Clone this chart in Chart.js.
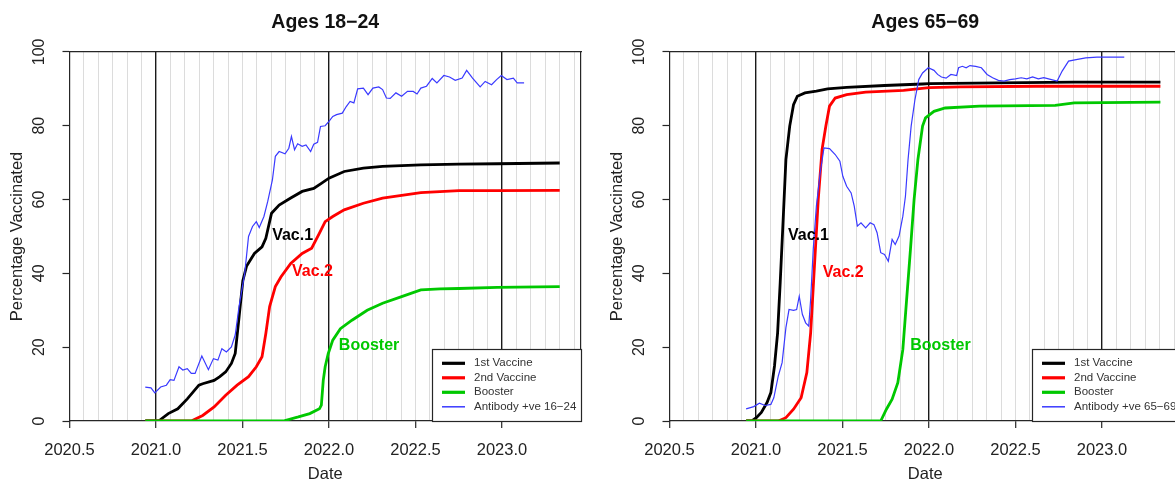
<!DOCTYPE html>
<html>
<head>
<meta charset="utf-8">
<script src="https://cdn.jsdelivr.net/npm/chart.js@4.4.1/dist/chart.umd.min.js"></script>
<style>
html, body { margin: 0; padding: 0; background: #fff; overflow: hidden; width: 1175px; height: 479px; }
.panel { position: absolute; top: 0; width: 600px; height: 484px; }
#p1 { left: 0; }
#p2 { left: 600px; }
</style>
</head>
<body>
<div class="panel" id="p1"><canvas id="c1" width="600" height="484"></canvas></div>
<div class="panel" id="p2"><canvas id="c2" width="600" height="484"></canvas></div>
<script>
// axis ticks
const xTickValues = [2020.5, 2021.0, 2021.5, 2022.0, 2022.5, 2023.0];
const xTickLabels = ['2020.5', '2021.0', '2021.5', '2022.0', '2022.5', '2023.0'];
const yTickValues = [0, 20, 40, 60, 80, 100];
const yTickLabels = ['0', '20', '40', '60', '80', '100'];
const seriesNames = ['1st Vaccine', '2nd Vaccine', 'Booster'];

// Ages 18-24
const yrsVac1Young = [2020.938, 2021.015, 2021.071, 2021.126, 2021.181, 2021.248, 2021.270, 2021.336, 2021.369, 2021.403, 2021.436, 2021.458, 2021.480, 2021.502, 2021.524, 2021.569, 2021.613, 2021.635, 2021.668, 2021.712, 2021.779, 2021.845, 2021.912, 2021.956, 2022.0, 2022.088, 2022.199, 2022.31, 2022.531, 2022.752, 2022.973, 2023.334];
const pctVac1Young = [0, 0, 2, 3.3, 6, 9.7, 10.1, 11, 12, 13.3, 15.6, 18.3, 28, 38, 42, 45.4, 47.2, 49.5, 56.3, 58.5, 60.4, 62.2, 63, 64.4, 65.8, 67.6, 68.5, 69, 69.4, 69.6, 69.7, 69.9];
const yrsVac2Young = [2020.938, 2021.204, 2021.270, 2021.336, 2021.403, 2021.469, 2021.535, 2021.580, 2021.613, 2021.635, 2021.657, 2021.690, 2021.723, 2021.779, 2021.845, 2021.900, 2021.945, 2021.978, 2022.022, 2022.088, 2022.199, 2022.31, 2022.531, 2022.752, 2022.973, 2023.334];
const pctVac2Young = [0, 0, 1.5, 3.8, 7, 9.7, 12, 14.7, 17.4, 23.7, 31, 36.4, 39.1, 42.7, 45.4, 46.8, 50.9, 54, 55.4, 57.2, 59, 60.4, 61.9, 62.4, 62.4, 62.5];
const yrsBoostYoung = [2020.938, 2021.735, 2021.823, 2021.889, 2021.945, 2021.956, 2021.967, 2021.978, 2021.996, 2022.022, 2022.066, 2022.133, 2022.221, 2022.31, 2022.42, 2022.531, 2022.642, 2022.752, 2022.973, 2023.334];
const pctBoostYoung = [0, 0, 1.1, 2, 3.3, 4.3, 11, 14.7, 18.3, 21.9, 25, 27.3, 30, 31.9, 33.7, 35.5, 35.8, 35.9, 36.2, 36.4];
const yrsAbYoung = [2020.938, 2020.971, 2020.993, 2021.027, 2021.060, 2021.082, 2021.104, 2021.133, 2021.155, 2021.181, 2021.204, 2021.226, 2021.265, 2021.303, 2021.332, 2021.358, 2021.381, 2021.407, 2021.436, 2021.458, 2021.480, 2021.513, 2021.535, 2021.558, 2021.580, 2021.597, 2021.624, 2021.646, 2021.673, 2021.690, 2021.712, 2021.746, 2021.768, 2021.783, 2021.801, 2021.819, 2021.845, 2021.867, 2021.894, 2021.912, 2021.934, 2021.951, 2021.978, 2022.0, 2022.022, 2022.044, 2022.077, 2022.100, 2022.122, 2022.144, 2022.166, 2022.199, 2022.226, 2022.254, 2022.288, 2022.310, 2022.332, 2022.354, 2022.387, 2022.420, 2022.454, 2022.487, 2022.509, 2022.531, 2022.564, 2022.597, 2022.624, 2022.664, 2022.697, 2022.730, 2022.770, 2022.796, 2022.830, 2022.874, 2022.903, 2022.940, 2022.969, 2022.996, 2023.029, 2023.066, 2023.088, 2023.128];
const pctAbYoung = [9.2, 9.0, 7.6, 9.2, 9.7, 11.2, 11.0, 14.7, 13.8, 14.2, 12.9, 12.9, 17.6, 13.9, 16.9, 16.5, 19.6, 18.7, 20.1, 23.3, 31, 40, 50, 52.7, 54, 52.4, 55.4, 59.5, 65.3, 71.7, 73, 72.4, 73.9, 77.1, 73.5, 75.1, 74.4, 74.8, 73, 75, 75.5, 79.8, 80, 81.2, 82.5, 83, 83.4, 85.2, 86.6, 86.2, 90, 90.2, 88.4, 90.2, 90.5, 89.8, 87.5, 87.4, 88.9, 88, 89.3, 89.3, 88.6, 90.2, 90.7, 92.8, 91.6, 93.6, 93.2, 92.3, 92.9, 95, 92.9, 90.5, 92, 91.1, 92.5, 93.6, 92.5, 92.9, 91.6, 91.6];
const noteTextYoung = ['Vac.1', 'Vac.2', 'Booster'];
const noteYrsYoung = [2021.79, 2021.905, 2022.232];
const notePctYoung = [50.2, 40.5, 20.4];

// Ages 65-69
const yrsVac1Old = [2020.943, 2020.976, 2021.002, 2021.031, 2021.064, 2021.086, 2021.107, 2021.125, 2021.140, 2021.158, 2021.173, 2021.195, 2021.217, 2021.239, 2021.283, 2021.349, 2021.414, 2021.524, 2021.743, 2021.963, 2022.0, 2022.401, 2022.840, 2023.338];
const pctVac1Old = [0, 0, 0.9, 2.3, 5, 7.7, 14.9, 23.9, 37.5, 55.5, 70.8, 79.9, 85.7, 88, 88.9, 89.4, 90, 90.4, 90.9, 91.3, 91.4, 91.6, 91.8, 91.8];
const yrsVac2Old = [2020.943, 2021.129, 2021.173, 2021.217, 2021.261, 2021.294, 2021.316, 2021.338, 2021.360, 2021.382, 2021.404, 2021.425, 2021.458, 2021.524, 2021.634, 2021.853, 2022.0, 2022.182, 2022.621, 2023.338];
const pctVac2Old = [0, 0, 0.9, 3.2, 6.3, 13.1, 23.9, 42, 60, 73.6, 79.9, 85.3, 87.5, 88.4, 89.1, 89.6, 90.3, 90.5, 90.7, 90.7];
const yrsBoostOld = [2020.943, 2021.721, 2021.754, 2021.787, 2021.820, 2021.849, 2021.871, 2021.893, 2021.914, 2021.936, 2021.963, 2021.980, 2022.029, 2022.094, 2022.292, 2022.730, 2022.840, 2023.338];
const pctBoostOld = [0, 0, 3.2, 5.9, 10.4, 19.4, 33, 46.5, 60, 70.8, 79.9, 82.1, 83.9, 84.8, 85.3, 85.5, 86.2, 86.4];
const yrsAbOld = [2020.943, 2020.987, 2021.020, 2021.053, 2021.086, 2021.103, 2021.129, 2021.151, 2021.173, 2021.191, 2021.217, 2021.235, 2021.250, 2021.268, 2021.287, 2021.305, 2021.316, 2021.331, 2021.349, 2021.371, 2021.393, 2021.425, 2021.458, 2021.485, 2021.502, 2021.524, 2021.550, 2021.568, 2021.586, 2021.607, 2021.634, 2021.660, 2021.682, 2021.700, 2021.721, 2021.743, 2021.765, 2021.787, 2021.805, 2021.827, 2021.849, 2021.864, 2021.879, 2021.897, 2021.919, 2021.941, 2021.963, 2021.996, 2022.029, 2022.050, 2022.072, 2022.099, 2022.127, 2022.160, 2022.171, 2022.193, 2022.215, 2022.237, 2022.270, 2022.303, 2022.336, 2022.368, 2022.401, 2022.434, 2022.467, 2022.500, 2022.533, 2022.566, 2022.599, 2022.632, 2022.664, 2022.708, 2022.741, 2022.770, 2022.807, 2022.851, 2022.906, 2022.971, 2023.059, 2023.129];
const pctAbOld = [3.3, 3.9, 4.8, 4.2, 4.5, 6.3, 12.2, 15.8, 25.3, 30.2, 30, 30.2, 33.8, 28.9, 26.6, 25.7, 33, 46.5, 58.2, 67.2, 74, 73.8, 72.2, 70.4, 66.3, 63.6, 61.8, 58.2, 52.8, 53.7, 52.3, 53.7, 53.2, 51, 45.6, 45.1, 43.3, 49.2, 47.8, 50.1, 55.5, 60.9, 70.8, 79.9, 87.1, 92.5, 94.3, 95.7, 95, 93.9, 93.2, 92.9, 93.9, 93.6, 95.7, 96.1, 95.7, 96.3, 96.1, 95.7, 93.9, 93, 92.3, 92.1, 92.5, 92.7, 93, 92.7, 93.2, 92.7, 93, 92.5, 92.1, 94.8, 97.5, 97.9, 98.4, 98.6, 98.6, 98.6];
const noteTextOld = ['Vac.1', 'Vac.2', 'Booster'];
const noteYrsOld = [2021.303, 2021.504, 2022.066];
const notePctOld = [50.3, 40.3, 20.3];

const FONT = "'Liberation Sans', Arial, sans-serif";
const DARK = '#262626';
const lineColors = ['#000000', '#ff0000', '#00c800', '#3a3aff'];
const lineWidths = [2.8, 2.8, 2.8, 1.2];

function pts(xs, ys) {
    return xs.map((x, i) => ({ x: x, y: ys[i] }));
}

// rotated y labels, like R's las=0
const yLabelPlugin = {
    id: 'yLabels',
    afterDraw(chart) {
        const c = chart.ctx, y = chart.scales.y;
        c.save();
        c.font = '16px ' + FONT;
        c.fillStyle = '#222';
        c.textAlign = 'center';
        c.textBaseline = 'middle';
        yTickValues.forEach((v, i) => {
            c.save();
            c.translate(chart.chartArea.left - 29.5, y.getPixelForValue(v));
            c.rotate(-Math.PI / 2);
            c.fillText(yTickLabels[i], 0, 0);
            c.restore();
        });
        c.restore();
    }
};

// Vac.1 / Vac.2 / Booster texts
const notePlugin = {
    id: 'notes',
    afterDatasetsDraw(chart, args, opts) {
        const c = chart.ctx;
        c.save();
        c.font = 'bold 16px ' + FONT;
        c.textAlign = 'center';
        c.textBaseline = 'middle';
        opts.text.forEach((t, i) => {
            c.fillStyle = lineColors[i];
            c.fillText(t, chart.scales.x.getPixelForValue(opts.xs[i]), chart.scales.y.getPixelForValue(opts.ys[i]));
        });
        c.restore();
    }
};

// boxed legend in the bottom right corner
const boxLegendPlugin = {
    id: 'boxLegend',
    afterDraw(chart) {
        const c = chart.ctx, a = chart.chartArea;
        const left = a.right - 149, top = a.bottom - 72;
        c.save();
        c.fillStyle = '#fff';
        c.fillRect(left, top, a.right - left, a.bottom - top);
        c.strokeStyle = DARK;
        c.lineWidth = 1.2;
        c.strokeRect(left + 0.5, top + 0.5, a.right - left, a.bottom - top);
        c.font = '11.5px ' + FONT;
        c.textBaseline = 'middle';
        c.textAlign = 'left';
        chart.data.datasets.forEach((ds, i) => {
            const yy = top + 14.3 + i * 14.5;
            c.strokeStyle = ds.borderColor;
            c.lineWidth = i < 3 ? 3.2 : 1.5;
            c.beginPath();
            c.moveTo(left + 10, yy);
            c.lineTo(left + 33, yy);
            c.stroke();
            c.fillStyle = '#333';
            c.fillText(ds.label, left + 42, yy);
        });
        c.restore();
    }
};

function makeChart(id, title, series, abLabel, notes) {
    const labels = seriesNames.concat([abLabel]);
    const datasets = series.map((s, i) => ({
        label: labels[i],
        data: pts(s[0], s[1]),
        borderColor: lineColors[i],
        borderWidth: lineWidths[i],
        pointRadius: 0,
        tension: 0,
        fill: false,
        order: 3 - i
    }));
    return new Chart(document.getElementById(id), {
        type: 'line',
        data: { datasets: datasets },
        options: {
            responsive: false,
            animation: false,
            events: [],
            layout: { padding: { left: 0, right: 19, top: 0, bottom: 0 } },
            plugins: {
                legend: { display: false },
                tooltip: { enabled: false },
                title: {
                    display: true,
                    text: title,
                    fullSize: false,
                    color: '#111',
                    font: { family: FONT, size: 19.5, weight: 'bold' },
                    padding: { top: 10.5, bottom: 18 }
                },
                notes: notes
            },
            scales: {
                x: {
                    type: 'linear',
                    position: 'bottom',
                    min: 2020.5,
                    max: 2023.457,
                    afterBuildTicks(scale) {
                        scale.ticks = xTickValues.map(v => ({ value: v }));
                    },
                    afterFit(scale) { scale.height = 63; },
                    ticks: {
                        autoSkip: false,
                        maxRotation: 0,
                        padding: 13,
                        color: '#222',
                        font: { family: FONT, size: 16.5 },
                        callback: (v) => xTickLabels[xTickValues.indexOf(v)]
                    },
                    grid: {
                        color: (ctx) => (ctx.tick && Number.isInteger(ctx.tick.value)) ? '#1a1a1a' : 'rgba(0,0,0,0)',
                        lineWidth: 1.4,
                        tickColor: DARK,
                        tickLength: 7,
                        tickWidth: 1.2
                    },
                    border: { display: true, color: DARK, width: 1.2 },
                    title: {
                        display: true,
                        text: 'Date',
                        color: '#222',
                        font: { family: FONT, size: 16.5 },
                        padding: { top: 0, bottom: 0 }
                    }
                },
                xm: {
                    type: 'linear',
                    position: 'top',
                    min: 2020.5,
                    max: 2023.457,
                    afterBuildTicks(scale) {
                        const t = [];
                        for (let k = 1; k < 36; k++) {
                            if (k % 12 !== 6) t.push({ value: 2020.5 + k / 12 });
                        }
                        scale.ticks = t;
                    },
                    afterFit(scale) { scale.height = 0; },
                    ticks: { display: false },
                    grid: { color: '#dcdcdc', lineWidth: 1, drawTicks: false },
                    border: { display: true, color: DARK, width: 1.2 }
                },
                y: {
                    type: 'linear',
                    position: 'left',
                    min: 0,
                    max: 100,
                    afterBuildTicks(scale) {
                        scale.ticks = yTickValues.map(v => ({ value: v }));
                    },
                    afterFit(scale) { scale.width = 69.5; },
                    ticks: { color: 'rgba(0,0,0,0)', font: { family: FONT, size: 16 } },
                    grid: { drawOnChartArea: false, tickColor: DARK, tickLength: 7, tickWidth: 1.2 },
                    border: { display: true, color: DARK, width: 1.2 },
                    title: {
                        display: true,
                        text: 'Percentage Vaccinated',
                        color: '#222',
                        font: { family: FONT, size: 16.5 },
                        padding: { top: 8, bottom: 0 }
                    }
                },
                yr: {
                    type: 'linear',
                    position: 'right',
                    min: 0,
                    max: 100,
                    afterFit(scale) { scale.width = 0; },
                    ticks: { display: false },
                    grid: { display: false },
                    border: { display: true, color: DARK, width: 1.2 }
                }
            }
        },
        plugins: [yLabelPlugin, notePlugin, boxLegendPlugin]
    });
}

makeChart('c1', 'Ages 18\u221224', [
    [yrsVac1Young, pctVac1Young],
    [yrsVac2Young, pctVac2Young],
    [yrsBoostYoung, pctBoostYoung],
    [yrsAbYoung, pctAbYoung]
], 'Antibody +ve 16\u221224', { text: noteTextYoung, xs: noteYrsYoung, ys: notePctYoung });

makeChart('c2', 'Ages 65\u221269', [
    [yrsVac1Old, pctVac1Old],
    [yrsVac2Old, pctVac2Old],
    [yrsBoostOld, pctBoostOld],
    [yrsAbOld, pctAbOld]
], 'Antibody +ve 65\u221269', { text: noteTextOld, xs: noteYrsOld, ys: notePctOld });
</script>
</body>
</html>
